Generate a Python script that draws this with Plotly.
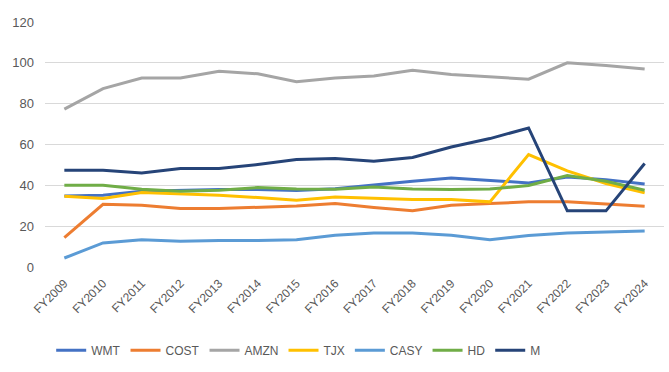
import plotly.graph_objects as go

years = ["FY2009", "FY2010", "FY2011", "FY2012", "FY2013", "FY2014", "FY2015", "FY2016",
         "FY2017", "FY2018", "FY2019", "FY2020", "FY2021", "FY2022", "FY2023", "FY2024"]

wmt = [34.8, 35.1, 37.1, 37.5, 38.0, 38.0, 37.5, 38.3, 40.2, 42.0, 43.6, 42.5, 41.2, 44.1, 42.8, 40.7]
cost = [14.4, 30.7, 30.2, 28.6, 28.6, 29.4, 29.9, 31.1, 29.1, 27.5, 30.2, 31.1, 31.9, 31.9, 30.7, 29.8]
amzn = [77.3, 87.4, 92.6, 92.6, 95.9, 94.6, 90.7, 92.6, 93.5, 96.4, 94.3, 93.1, 92.0, 100.0, 98.7, 97.0]
tjx = [34.7, 33.5, 36.5, 35.9, 35.1, 34.0, 32.7, 34.3, 33.8, 33.0, 33.0, 31.9, 55.1, 47.1, 40.9, 36.3]
casy = [4.4, 11.8, 13.4, 12.6, 13.0, 13.0, 13.4, 15.5, 16.7, 16.7, 15.5, 13.4, 15.4, 16.7, 17.2, 17.6]
hd = [40.0, 40.0, 38.1, 37.1, 37.6, 38.9, 38.2, 38.1, 39.2, 38.2, 37.9, 38.2, 39.9, 44.8, 42.0, 37.6]
m = [47.4, 47.4, 46.1, 48.2, 48.2, 50.2, 52.6, 53.1, 51.8, 53.6, 58.8, 62.9, 68.1, 27.5, 27.5, 50.7]

series = [
    ("WMT", wmt, "#4472C4"),
    ("COST", cost, "#ED7D31"),
    ("AMZN", amzn, "#A5A5A5"),
    ("TJX", tjx, "#FFC000"),
    ("CASY", casy, "#5B9BD5"),
    ("HD", hd, "#70AD47"),
    ("M", m, "#264478"),
]

fig = go.Figure()
for name, vals, color in series:
    fig.add_trace(go.Scatter(x=years, y=vals, name=name, mode="lines",
                             line=dict(color=color, width=3)))

font_family = "Liberation Sans, Arial, sans-serif"

fig.update_layout(
    width=669, height=372,
    margin=dict(l=45, r=5, t=22, b=105, autoexpand=False),
    paper_bgcolor="white", plot_bgcolor="white",
    font=dict(family=font_family, size=13, color="#595959"),
    showlegend=True,
    legend=dict(orientation="h", x=0.01, xanchor="left", y=-0.34, yanchor="middle",
                font=dict(size=12, color="#595959"), itemwidth=30, tracegroupgap=0),
    xaxis=dict(type="category", range=[-0.5, 15.5], tickangle=-45, showgrid=False,
               showline=False, zeroline=False, ticks="", ticklabelstandoff=6,
               automargin=False, tickfont=dict(size=12, color="#595959")),
    yaxis=dict(range=[0, 120], dtick=20, showgrid=True, gridcolor="#D9D9D9",
               gridwidth=1, zeroline=False, showline=False, ticks="", automargin=False,
               ticklabelstandoff=10, tickfont=dict(size=13, color="#595959")),
)

fig.write_html("out.html", config={"displayModeBar": False},
               post_script="document.body.style.margin='0';")
